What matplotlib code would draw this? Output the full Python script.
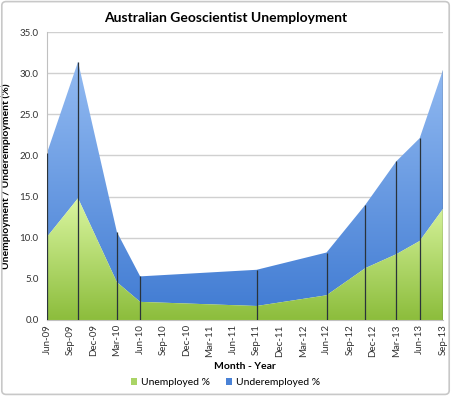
import numpy as np
import pandas as pd
import matplotlib
matplotlib.use('Agg')
import matplotlib.pyplot as plt
from matplotlib.patches import Patch, FancyBboxPatch
from matplotlib.colors import LinearSegmentedColormap

plt.rcParams['font.family'] = ['Lato', 'DejaVu Sans']

# data points (survey dates) and values
point_dates = ['Jun-09', 'Oct-09', 'Mar-10', 'Jun-10', 'Sep-11', 'Jun-12',
               'Nov-12', 'Mar-13', 'Jun-13', 'Sep-13']
unemployed = [10.1, 14.8, 4.6, 2.2, 1.7, 3.0, 6.3, 8.0, 9.6, 13.5]
underemployed = [10.2, 16.6, 6.1, 3.1, 4.4, 5.2, 7.7, 11.3, 12.5, 16.9]

tick_labels = ['Jun-09', 'Sep-09', 'Dec-09', 'Mar-10', 'Jun-10', 'Sep-10',
               'Dec-10', 'Mar-11', 'Jun-11', 'Sep-11', 'Dec-11', 'Mar-12',
               'Jun-12', 'Sep-12', 'Dec-12', 'Mar-13', 'Jun-13', 'Sep-13']


def month_idx(s):
    d = pd.to_datetime(s, format='%b-%y')
    return (d.year - 2009) * 12 + d.month - 6


x = np.array([month_idx(s) for s in point_dates], dtype=float)
xt = np.array([month_idx(s) for s in tick_labels], dtype=float)
u = np.array(unemployed)
top = u + np.array(underemployed)

fig = plt.figure(figsize=(4.51, 3.96), dpi=100)
fig.patch.set_facecolor('white')
fig.patches.append(FancyBboxPatch((0.004, 0.004), 0.992, 0.992, boxstyle='round,pad=0,rounding_size=0.01',
                                  transform=fig.transFigure, fc='none', ec='#c8c8c8', lw=1.2))

ax = fig.add_axes([0.1042, 0.192, 0.878, 0.727])
ax.set_xlim(0, 51)
ax.set_ylim(0, 35)


def grad_fill(y0, y1, c_top, c_bot, z):
    poly = ax.fill_between(x, y0, y1, facecolor='none', edgecolor='none', zorder=z)
    cmap = LinearSegmentedColormap.from_list('g', [c_bot, c_top])
    g = np.linspace(0, 1, 256).reshape(-1, 1)
    im = ax.imshow(g, cmap=cmap, origin='lower', aspect='auto',
                   extent=[0, 51, 0, np.max(y1)], zorder=z, interpolation='bilinear')
    im.set_clip_path(poly.get_paths()[0], transform=ax.transData)


grad_fill(u, top, '#93bbf2', '#3f7ad2', 2)
grad_fill(np.zeros_like(u), u, '#daf6a0', '#8cbd3c', 3)
ax.set_xlim(0, 51)
ax.set_ylim(0, 35)

ax.vlines(x, 0, top, colors='#2a333a', lw=0.9, zorder=4)

ax.set_yticks(np.arange(0, 36, 5))
ax.set_yticklabels(['%.1f' % v for v in np.arange(0, 36, 5)])
ax.yaxis.grid(True, color='#d0d0d0', lw=1)
ax.set_axisbelow(True)
ax.set_xticks(xt)
ax.set_xticklabels(tick_labels, rotation=90)
ax.tick_params(axis='both', length=0, labelsize=7, colors='#333333', pad=3)
ax.tick_params(axis='y', pad=6)
for s in ['top', 'right']:
    ax.spines[s].set_visible(False)
ax.spines['left'].set_color('#c0c0c0')
ax.spines['bottom'].set_color('#c0c0c0')

fig.text(0.5, 0.955, 'Australian Geoscientist Unemployment', ha='center', va='center',
         fontsize=10, fontweight='bold')
ax.set_xlabel('Month - Year', fontsize=7.5, fontweight='bold', labelpad=4)
ax.set_ylabel('Unemployment / Underemployment (%)', fontsize=7.5, fontweight='bold', labelpad=6)

handles = [Patch(fc='#aad466', label='Unemployed %'), Patch(fc='#4a82d6', label='Underemployed %')]
fig.legend(handles=handles, loc='center', bbox_to_anchor=(0.5, 0.033), ncol=2, frameon=False,
           fontsize=7.5, handlelength=0.6, handleheight=0.6, columnspacing=1.5, handletextpad=0.4)

fig.savefig('out.png', dpi=100)
